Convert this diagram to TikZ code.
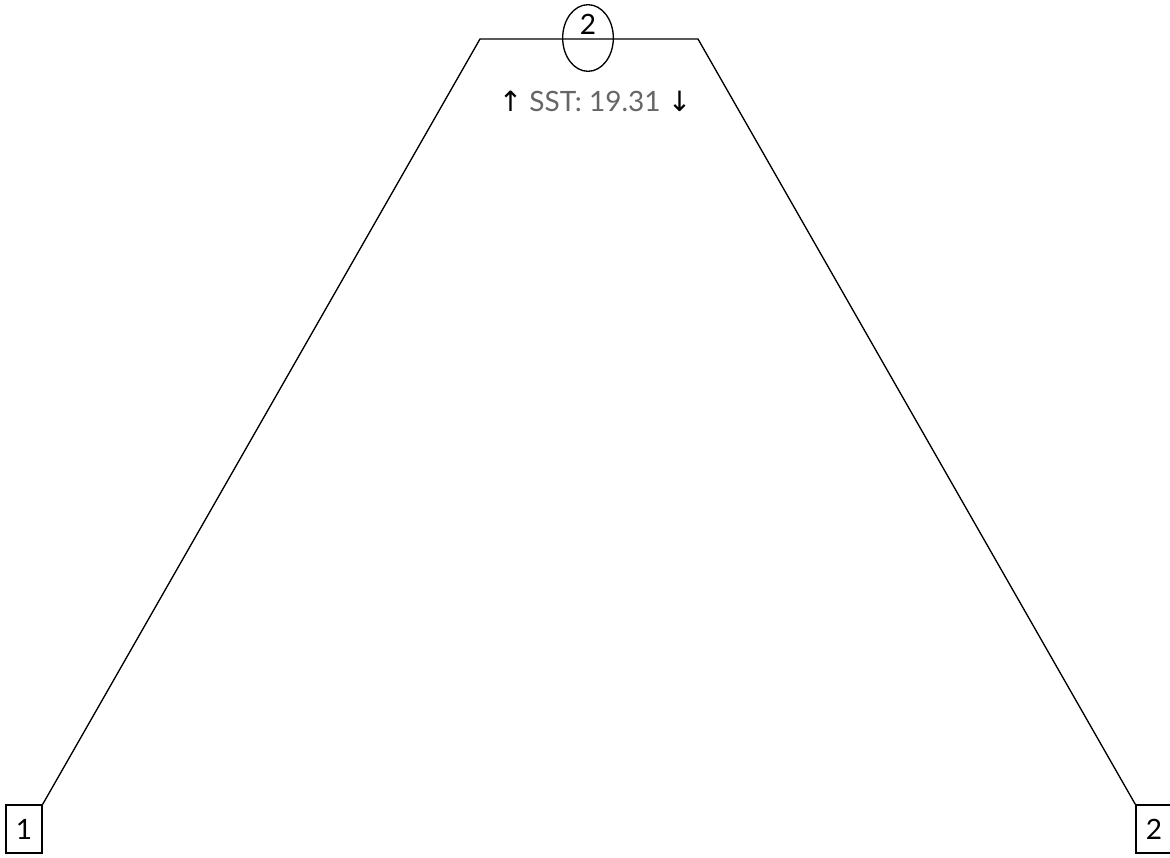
\documentclass[tikz,border=0pt]{standalone}
\usepackage{fontspec}
\setmainfont{Lato}
\newfontfamily\arrowfont{DejaVu Sans}
\usetikzlibrary{shapes.geometric}
\definecolor{txtgray}{HTML}{666666}
\tikzset{
  edgeline/.style={draw=black, line width=1pt},
  numbox/.style={draw=black, line width=1pt, minimum width=27pt, minimum height=36pt, inner sep=0pt, font=\fontsize{21}{24}\selectfont},
  oval/.style={draw=black, line width=1pt, ellipse, minimum width=38pt, minimum height=50pt, inner sep=0pt},
  lbl/.style={inner sep=0pt, font=\fontsize{21}{24}\selectfont}
}
\begin{document}
\begin{tikzpicture}[x=0.75pt,y=-0.75pt]
\useasboundingbox (0,0) rectangle (1170,857);
\node[numbox] (b1) at (24,829) {1};
\node[numbox] (b2) at (1154,829) {2};
\coordinate (tl) at (480,39);
\coordinate (tr) at (698,39);
\draw[edgeline] (b1.north east) -- (tl) -- (tr) -- (b2.north west);
\node[oval] (e) at (588,38) {};
\node[lbl] (e2) at (588,24) {2};
\node[lbl] (sst) at (595,101) {{\arrowfont\fontsize{21}{24}\selectfont ↑}\ \textcolor{txtgray}{SST: 19.31}\ {\arrowfont\fontsize{21}{24}\selectfont ↓}};
\end{tikzpicture}
\end{document}
